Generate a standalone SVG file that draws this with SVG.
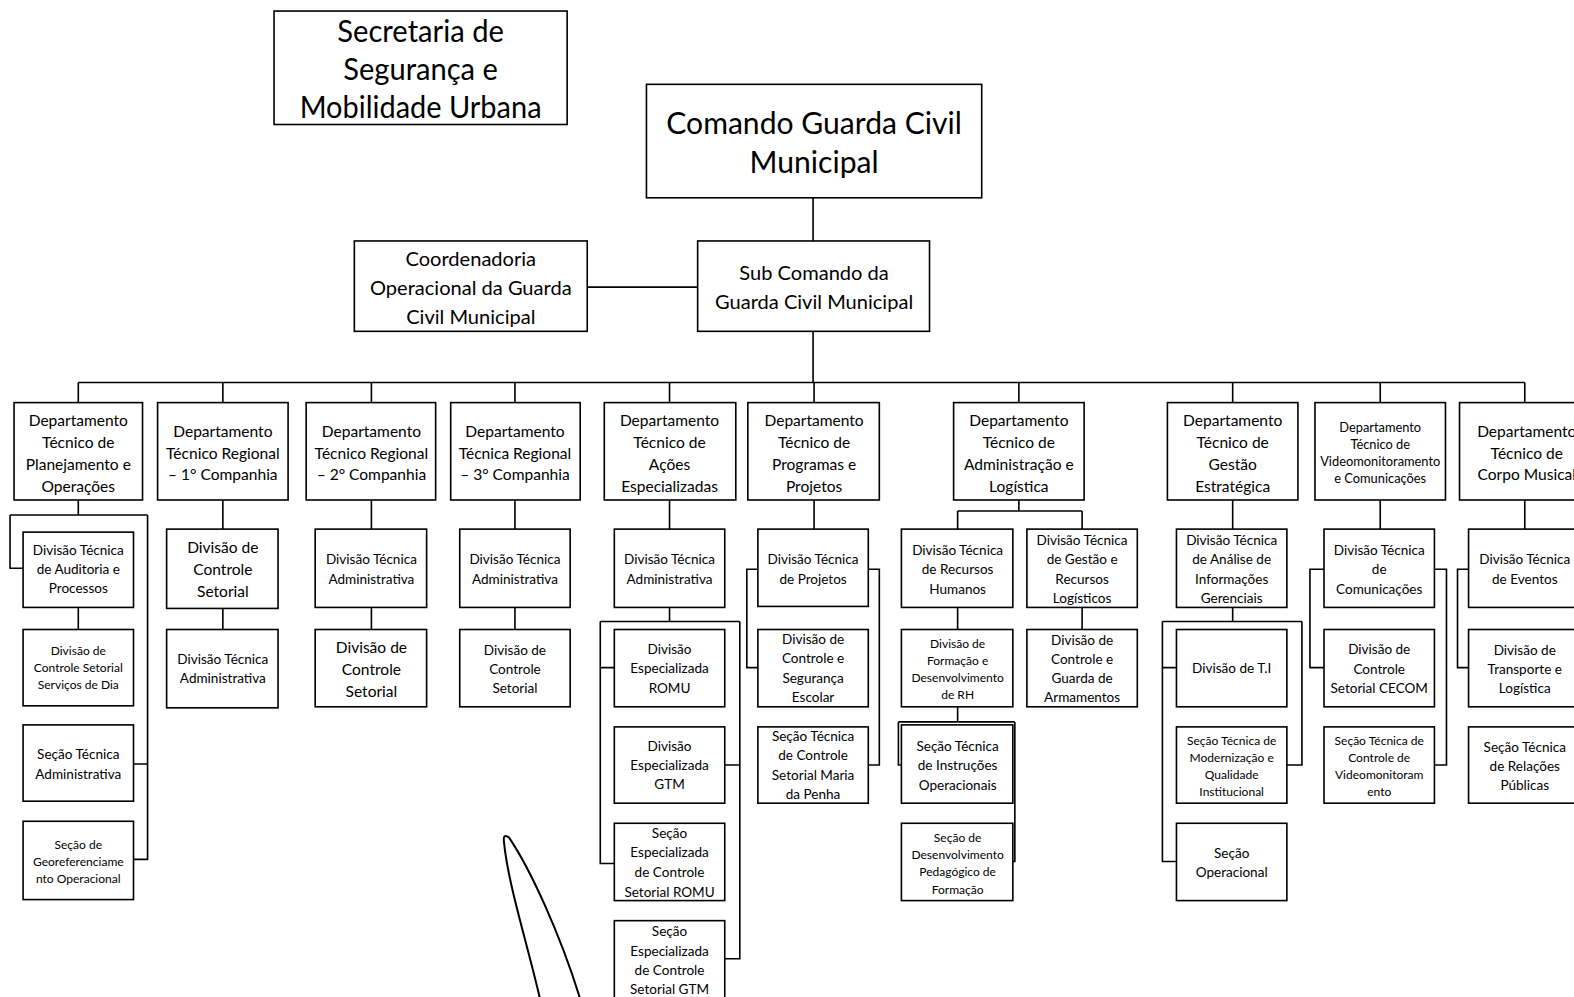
<svg xmlns="http://www.w3.org/2000/svg" width="1574" height="997" viewBox="0 0 1574 997">
<style>
rect{fill:#fff;stroke:#000;stroke-width:1.6}
text{font-family:Lato,"Liberation Sans",sans-serif;fill:#000;text-anchor:middle;dominant-baseline:central}
.c path{fill:none;stroke:#000;stroke-width:1.6}
.t30{font-size:30px}
.t21{font-size:20px}
.t16{font-size:15.5px}
.t14{font-size:13.5px}
.t12{font-size:12px}
.t11{font-size:12.8px}
</style>
<rect x="0" y="0" width="1574" height="997" style="stroke:none"/>
<g transform="scale(1.0038,1.004)">
<g class="c" id="connectors">
<path d="M810 197V240M585 286H695M810 330V381M78 381H1519"/>
<path d="M78 381V401M222 381V401M370 381V401M513 381V401M667 381V401M811 381V401M1015 381V401M1228 381V401M1375 381V401M1519 381V401"/>
<path d="M78 498V513M10 513H147M10 513V566H23M147 513V856H133M133 761H147M78 605V627"/>
<path d="M222 498V527M222 606V627"/>
<path d="M370 498V527M370 605V627"/>
<path d="M513 498V527M513 605V627"/>
<path d="M667 498V527M667 605V619M598 619H737M598 619V860H612M598 665H612M737 619V955H722M722 762H737"/>
<path d="M811 498V527M755 567H744V665H755M865 567H876V762H865"/>
<path d="M1015 498V509M954 509H1078M954 509V527M1078 509V527M954 605V627M1078 605V627M954 704V719M895 719H1011M895 719V762H898M1011 719V858H1009"/>
<path d="M1228 498V527M1228 605V619M1158 619H1297M1158 619V858H1172M1158 665H1172M1297 619V762H1282"/>
<path d="M1375 498V527M1319 567H1305V665H1319M1429 567H1441V762H1429"/>
<path d="M1519 498V527M1463 567H1452V665H1463"/>
</g>
<g id="secretaria"><rect x="273" y="11" width="292" height="113"/>
<text style="font-size:30px"><tspan x="419" y="30" textLength="166" lengthAdjust="spacingAndGlyphs">Secretaria de</tspan><tspan x="419" y="68" textLength="154" lengthAdjust="spacingAndGlyphs">Segurança e</tspan><tspan x="419" y="106" textLength="241" lengthAdjust="spacingAndGlyphs">Mobilidade Urbana</tspan></text></g>
<g id="comando"><rect x="644" y="84" width="334" height="113"/>
<text class="t30"><tspan x="811" y="122">Comando Guarda Civil</tspan><tspan x="811" y="160">Municipal</tspan></text></g>
<g id="coordenadoria"><rect x="353" y="240" width="232" height="90"/>
<text class="t21"><tspan x="469" y="257">Coordenadoria</tspan><tspan x="469" y="286">Operacional da Guarda</tspan><tspan x="469" y="315">Civil Municipal</tspan></text></g>
<g id="subcomando"><rect x="695" y="240" width="231" height="90"/>
<text class="t21"><tspan x="811" y="271">Sub Comando da</tspan><tspan x="811" y="300">Guarda Civil Municipal</tspan></text></g>

<g id="d1"><rect x="14" y="401" width="128" height="97"/>
<text class="t16"><tspan x="78" y="418">Departamento</tspan><tspan x="78" y="440">Técnico de</tspan><tspan x="78" y="462">Planejamento e</tspan><tspan x="78" y="484">Operações</tspan></text></g>
<g id="d2"><rect x="157" y="401" width="130" height="97"/>
<text class="t16"><tspan x="222" y="429">Departamento</tspan><tspan x="222" y="451">Técnico Regional</tspan><tspan x="222" y="472">– 1° Companhia</tspan></text></g>
<g id="d3"><rect x="305" y="401" width="129" height="97"/>
<text class="t16"><tspan x="370" y="429">Departamento</tspan><tspan x="370" y="451">Técnico Regional</tspan><tspan x="370" y="472">– 2° Companhia</tspan></text></g>
<g id="d4"><rect x="449" y="401" width="129" height="97"/>
<text class="t16"><tspan x="513" y="429">Departamento</tspan><tspan x="513" y="451">Técnica Regional</tspan><tspan x="513" y="472">– 3° Companhia</tspan></text></g>
<g id="d5"><rect x="602" y="401" width="131" height="97"/>
<text class="t16"><tspan x="667" y="418">Departamento</tspan><tspan x="667" y="440">Técnico de</tspan><tspan x="667" y="462">Ações</tspan><tspan x="667" y="484">Especializadas</tspan></text></g>
<g id="d6"><rect x="745" y="401" width="131" height="97"/>
<text class="t16"><tspan x="811" y="418">Departamento</tspan><tspan x="811" y="440">Técnico de</tspan><tspan x="811" y="462">Programas e</tspan><tspan x="811" y="484">Projetos</tspan></text></g>
<g id="d7"><rect x="950" y="401" width="130" height="97"/>
<text class="t16"><tspan x="1015" y="418">Departamento</tspan><tspan x="1015" y="440">Técnico de</tspan><tspan x="1015" y="462">Administração e</tspan><tspan x="1015" y="484">Logística</tspan></text></g>
<g id="d8"><rect x="1163" y="401" width="130" height="97"/>
<text class="t16"><tspan x="1228" y="418">Departamento</tspan><tspan x="1228" y="440">Técnico de</tspan><tspan x="1228" y="462">Gestão</tspan><tspan x="1228" y="484">Estratégica</tspan></text></g>
<g id="d9"><rect x="1310" y="401" width="130" height="97"/>
<text class="t11"><tspan x="1375" y="425">Departamento</tspan><tspan x="1375" y="442">Técnico de</tspan><tspan x="1375" y="459">Videomonitoramento</tspan><tspan x="1375" y="476">e Comunicações</tspan></text></g>
<g id="d10"><rect x="1454" y="401" width="130" height="97"/>
<text class="t16"><tspan x="1521" y="429">Departamento</tspan><tspan x="1521" y="451">Técnico de</tspan><tspan x="1521" y="472">Corpo Musical</tspan></text></g>

<g id="n1a"><rect x="23" y="530" width="110" height="75"/>
<text class="t14"><tspan x="78" y="548">Divisão Técnica</tspan><tspan x="78" y="567">de Auditoria e</tspan><tspan x="78" y="586">Processos</tspan></text></g>
<g id="n1b"><rect x="23" y="627" width="110" height="76"/>
<text class="t12"><tspan x="78" y="647">Divisão de</tspan><tspan x="78" y="664">Controle Setorial</tspan><tspan x="78" y="681">Serviços de Dia</tspan></text></g>
<g id="n1c"><rect x="23" y="722" width="110" height="76"/>
<text class="t14"><tspan x="78" y="751">Seção Técnica</tspan><tspan x="78" y="771">Administrativa</tspan></text></g>
<g id="n1d"><rect x="23" y="818" width="110" height="78"/>
<text class="t12"><tspan x="78" y="841">Seção de</tspan><tspan x="78" y="858">Georeferenciame</tspan><tspan x="78" y="875">nto Operacional</tspan></text></g>

<g id="n2a"><rect x="166" y="527" width="111" height="79"/>
<text class="t16"><tspan x="222" y="545">Divisão de</tspan><tspan x="222" y="567">Controle</tspan><tspan x="222" y="589">Setorial</tspan></text></g>
<g id="n2b"><rect x="166" y="627" width="111" height="78"/>
<text class="t14"><tspan x="222" y="656">Divisão Técnica</tspan><tspan x="222" y="675">Administrativa</tspan></text></g>

<g id="n3a"><rect x="314" y="527" width="111" height="78"/>
<text class="t14"><tspan x="370" y="557">Divisão Técnica</tspan><tspan x="370" y="577">Administrativa</tspan></text></g>
<g id="n3b"><rect x="314" y="627" width="111" height="77"/>
<text class="t16"><tspan x="370" y="644">Divisão de</tspan><tspan x="370" y="666">Controle</tspan><tspan x="370" y="688">Setorial</tspan></text></g>

<g id="n4a"><rect x="458" y="527" width="110" height="78"/>
<text class="t14"><tspan x="513" y="557">Divisão Técnica</tspan><tspan x="513" y="577">Administrativa</tspan></text></g>
<g id="n4b"><rect x="458" y="627" width="110" height="77"/>
<text class="t14"><tspan x="513" y="647">Divisão de</tspan><tspan x="513" y="666">Controle</tspan><tspan x="513" y="685">Setorial</tspan></text></g>

<g id="n5a"><rect x="612" y="527" width="110" height="78"/>
<text class="t14"><tspan x="667" y="557">Divisão Técnica</tspan><tspan x="667" y="577">Administrativa</tspan></text></g>
<g id="n5b"><rect x="612" y="627" width="110" height="77"/>
<text class="t14"><tspan x="667" y="646">Divisão</tspan><tspan x="667" y="665">Especializada</tspan><tspan x="667" y="685">ROMU</tspan></text></g>
<g id="n5c"><rect x="612" y="724" width="110" height="76"/>
<text class="t14"><tspan x="667" y="743">Divisão</tspan><tspan x="667" y="762">Especializada</tspan><tspan x="667" y="781">GTM</tspan></text></g>
<g id="n5d"><rect x="612" y="820" width="110" height="77"/>
<text class="t14"><tspan x="667" y="830">Seção</tspan><tspan x="667" y="849">Especializada</tspan><tspan x="667" y="869">de Controle</tspan><tspan x="667" y="888">Setorial ROMU</tspan></text></g>
<g id="n5e"><rect x="612" y="917" width="110" height="80"/>
<text class="t14"><tspan x="667" y="927">Seção</tspan><tspan x="667" y="947">Especializada</tspan><tspan x="667" y="966">de Controle</tspan><tspan x="667" y="985">Setorial GTM</tspan></text></g>

<g id="n6a"><rect x="755" y="527" width="110" height="77"/>
<text class="t14"><tspan x="810" y="557">Divisão Técnica</tspan><tspan x="810" y="577">de Projetos</tspan></text></g>
<g id="n6b"><rect x="755" y="627" width="110" height="77"/>
<text class="t14"><tspan x="810" y="636">Divisão de</tspan><tspan x="810" y="655">Controle e</tspan><tspan x="810" y="675">Segurança</tspan><tspan x="810" y="694">Escolar</tspan></text></g>
<g id="n6c"><rect x="755" y="724" width="110" height="76"/>
<text class="t14"><tspan x="810" y="733">Seção Técnica</tspan><tspan x="810" y="752">de Controle</tspan><tspan x="810" y="772">Setorial Maria</tspan><tspan x="810" y="791">da Penha</tspan></text></g>

<g id="n7a"><rect x="898" y="527" width="111" height="78"/>
<text class="t14"><tspan x="954" y="548">Divisão Técnica</tspan><tspan x="954" y="567">de Recursos</tspan><tspan x="954" y="587">Humanos</tspan></text></g>
<g id="n7b"><rect x="1023" y="527" width="110" height="78"/>
<text class="t14"><tspan x="1078" y="538">Divisão Técnica</tspan><tspan x="1078" y="557">de Gestão e</tspan><tspan x="1078" y="577">Recursos</tspan><tspan x="1078" y="596">Logísticos</tspan></text></g>
<g id="n7c"><rect x="898" y="627" width="111" height="77"/>
<text class="t12"><tspan x="954" y="640">Divisão de</tspan><tspan x="954" y="657">Formação e</tspan><tspan x="954" y="674">Desenvolvimento</tspan><tspan x="954" y="691">de RH</tspan></text></g>
<g id="n7d"><rect x="1023" y="627" width="110" height="77"/>
<text class="t14"><tspan x="1078" y="637">Divisão de</tspan><tspan x="1078" y="656">Controle e</tspan><tspan x="1078" y="675">Guarda de</tspan><tspan x="1078" y="694">Armamentos</tspan></text></g>
<g id="n7e"><rect x="898" y="722" width="111" height="78"/>
<text class="t14"><tspan x="954" y="743">Seção Técnica</tspan><tspan x="954" y="762">de Instruções</tspan><tspan x="954" y="782">Operacionais</tspan></text></g>
<g id="n7f"><rect x="898" y="820" width="111" height="77"/>
<text class="t12"><tspan x="954" y="834">Seção de</tspan><tspan x="954" y="851">Desenvolvimento</tspan><tspan x="954" y="868">Pedagógico de</tspan><tspan x="954" y="885">Formação</tspan></text></g>

<g id="n8a"><rect x="1172" y="527" width="110" height="78"/>
<text class="t14"><tspan x="1227" y="538">Divisão Técnica</tspan><tspan x="1227" y="557">de Análise de</tspan><tspan x="1227" y="577">Informações</tspan><tspan x="1227" y="596">Gerenciais</tspan></text></g>
<g id="n8b"><rect x="1172" y="627" width="110" height="77"/>
<text class="t14"><tspan x="1227" y="665">Divisão de T.I</tspan></text></g>
<g id="n8c"><rect x="1172" y="724" width="110" height="76"/>
<text class="t12"><tspan x="1227" y="737">Seção Técnica de</tspan><tspan x="1227" y="754">Modernização e</tspan><tspan x="1227" y="771">Qualidade</tspan><tspan x="1227" y="788">Institucional</tspan></text></g>
<g id="n8d"><rect x="1172" y="820" width="110" height="77"/>
<text class="t14"><tspan x="1227" y="850">Seção</tspan><tspan x="1227" y="869">Operacional</tspan></text></g>

<g id="n9a"><rect x="1319" y="527" width="110" height="78"/>
<text class="t14"><tspan x="1374" y="548">Divisão Técnica</tspan><tspan x="1374" y="567">de</tspan><tspan x="1374" y="587">Comunicações</tspan></text></g>
<g id="n9b"><rect x="1319" y="627" width="110" height="77"/>
<text class="t14"><tspan x="1374" y="646">Divisão de</tspan><tspan x="1374" y="666">Controle</tspan><tspan x="1374" y="685">Setorial CECOM</tspan></text></g>
<g id="n9c"><rect x="1319" y="724" width="110" height="76"/>
<text class="t12"><tspan x="1374" y="737">Seção Técnica de</tspan><tspan x="1374" y="754">Controle de</tspan><tspan x="1374" y="771">Videomonitoram</tspan><tspan x="1374" y="788">ento</tspan></text></g>

<g id="n10a"><rect x="1463" y="527" width="120" height="78"/>
<text class="t14"><tspan x="1519" y="557">Divisão Técnica</tspan><tspan x="1519" y="577">de Eventos</tspan></text></g>
<g id="n10b"><rect x="1463" y="627" width="120" height="77"/>
<text class="t14"><tspan x="1519" y="647">Divisão de</tspan><tspan x="1519" y="666">Transporte e</tspan><tspan x="1519" y="685">Logística</tspan></text></g>
<g id="n10c"><rect x="1463" y="724" width="120" height="76"/>
<text class="t14"><tspan x="1519" y="744">Seção Técnica</tspan><tspan x="1519" y="763">de Relações</tspan><tspan x="1519" y="782">Públicas</tspan></text></g>

<path d="M538 995C524 935 506 880 502 838Q501 830 507 834C528 865 558 930 578 995" fill="none" stroke="#000" stroke-width="2"/>
</g>
</svg>
